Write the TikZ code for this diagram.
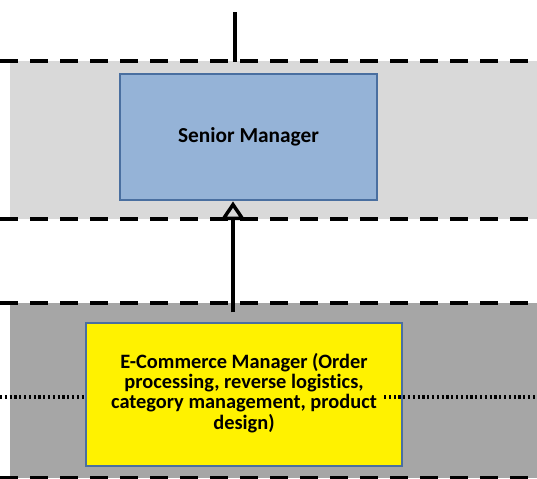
\documentclass[tikz,border=0pt]{standalone}
\usepackage{fontspec}
\setmainfont{Carlito}[Ligatures=NoCommon]
\usepackage{tikz}
\usetikzlibrary{arrows.meta}
\definecolor{bandlight}{HTML}{D9D9D9}
\definecolor{banddark}{HTML}{A6A6A6}
\definecolor{seniorfill}{HTML}{95B3D7}
\definecolor{boxedge}{HTML}{4A6FA0}
\tikzset{
  bandline/.style={black, line width=3pt, dash pattern=on 13.5pt off 9pt},
  dotline/.style={black, line width=2.6pt, dash pattern=on 1.6pt off 2pt},
  rolebox/.style={draw=boxedge, line width=2pt, align=center, inner sep=0pt}
}

\begin{document}
\begin{tikzpicture}[x=0.75pt, y=-0.75pt]
\useasboundingbox (0,0) rectangle (537,479);
\fill[bandlight] (10,61) rectangle (537,219);
\fill[banddark] (10,303) rectangle (537,478);
\draw[dotline] (0,397) -- (537,397);
\draw[bandline] (0,61) -- (537,61);
\draw[bandline] (0,219) -- (537,219);
\draw[bandline] (0,303) -- (537,303);
\draw[bandline] (0,478) -- (537,478);

\node[rolebox, fill=seniorfill, minimum width=192.75pt, minimum height=94.5pt,
  font=\bfseries\fontsize{16}{18}\selectfont] (senior) at (248.5,137) {\raisebox{-2pt}{Senior Manager}};
\node[rolebox, fill=yellow, minimum width=237pt, minimum height=107.25pt,
  font=\bfseries\fontsize{15.3}{15}\selectfont] (ecom) at (244,394.5)
  {\raisebox{8pt}{\begin{tabular}{@{}c@{}}E-Commerce Manager (Order\\ processing, reverse logistics,\\ category management, product\\ design)\end{tabular}}};
\draw[dotline] (384,397) -- (ecom.east |- 0,397);

\coordinate (top) at (235,12);
\coordinate (topend) at (235,62);
\draw[black, line width=2.6pt] (top) -- (topend);
\draw[black, line width=2.6pt, -{Triangle[open, width=18pt, length=14pt]}, shorten <=7pt] (ecom.north -| 233,0) -- (senior.south -| 233,0);

\end{tikzpicture}
\end{document}
